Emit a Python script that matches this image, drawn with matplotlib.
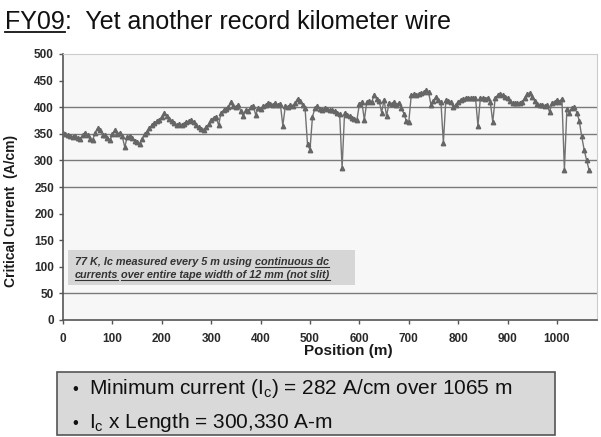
import numpy as np
import matplotlib
matplotlib.use("Agg")
import matplotlib.pyplot as plt
from matplotlib.lines import Line2D
from matplotlib.patches import Rectangle

plt.rcParams['font.family'] = ['Liberation Sans', 'DejaVu Sans']
plt.rcParams['mathtext.fontset'] = 'custom'
plt.rcParams['mathtext.rm'] = 'Liberation Sans'
plt.rcParams['mathtext.it'] = 'Liberation Sans'

# Ic measured every 5 m along the tape
position = np.arange(0, 1070, 5)
current = [
    351, 349, 347, 346, 344, 346, 342, 341, 348, 352, 347, 340, 338, 352, 360, 358, 348, 347, 343, 338,
    349, 357, 350, 352, 345, 325, 344, 346, 342, 337, 334, 331, 340, 350, 354, 360, 366, 370, 374, 376,
    382, 389, 384, 378, 374, 370, 366, 368, 366, 369, 372, 374, 376, 372, 366, 362, 359, 358, 362, 368,
    376, 380, 382, 366, 390, 394, 396, 400, 410, 402, 400, 404, 392, 384, 394, 392, 400, 402, 386, 398,
    396, 402, 404, 408, 406, 405, 407, 404, 406, 365, 402, 400, 404, 402, 408, 416, 412, 404, 398, 330,
    320, 382, 398, 402, 396, 395, 398, 396, 395, 394, 392, 390, 388, 286, 390, 386, 384, 380, 378, 376,
    406, 410, 376, 410, 412, 410, 423, 416, 412, 390, 414, 383, 408, 406, 410, 405, 408, 398, 388, 374,
    372, 423, 424, 423, 425, 426, 428, 432, 428, 404, 412, 419, 414, 410, 333, 414, 412, 410, 400, 404,
    410, 414, 416, 417, 418, 417, 418, 418, 365, 418, 417, 416, 418, 410, 372, 418, 422, 424, 422, 420,
    418, 412, 408, 408, 407, 408, 410, 418, 424, 427, 420, 412, 406, 404, 405, 402, 404, 391, 408, 410,
    414, 410, 416, 282, 396, 390, 398, 400, 390, 375, 345, 320, 300, 282,
]
grid_levels = [50, 250, 300, 350, 400]
y_ticks = list(range(0, 501, 50))
x_ticks = list(range(0, 1001, 100))

W, H = 601, 437
fig = plt.figure(figsize=(W / 100, H / 100), dpi=100)


def fx(x):
    return x / W


def fy(y):
    return 1 - y / H


ax = fig.add_axes([fx(63), fy(320), fx(597) - fx(63), fy(54) - fy(320)])
ax.set_facecolor('#f7f7f7')
for lvl in grid_levels:
    ax.axhline(lvl, color='#7a7a7a', lw=1.0, zorder=1)
ax.plot(position, current, color='#727272', lw=1.0, marker='^', ms=3.2,
        mfc='#666666', mec='#666666', zorder=3)
ax.set_xlim(0, 1081)
ax.set_ylim(0, 500)
ax.set_xticks(x_ticks)
ax.set_yticks(y_ticks)
ax.tick_params(direction='out', length=3, width=1, colors='#555555',
               labelcolor='#2a2a2a', labelsize=8.5)
ax.tick_params(axis='x', pad=6)
for lab in ax.get_xticklabels() + ax.get_yticklabels():
    lab.set_fontweight('bold')
for side in ['left', 'bottom']:
    ax.spines[side].set_color('#555555')
    ax.spines[side].set_linewidth(1.2)
for side in ['top', 'right']:
    ax.spines[side].set_color('#cccccc')

ax.set_xlabel('Position (m)', fontsize=11, fontweight='bold', color='#1a1a1a')
ax.xaxis.set_label_coords((348 - 63) / 534, -0.09)
ax.set_ylabel('Critical Current  (A/cm)', fontsize=10, fontweight='bold', color='#1a1a1a')
ax.yaxis.set_label_coords(-0.085, 0.41)

# note box inside the plot
fig.add_artist(Rectangle((fx(68), fy(285)), fx(355) - fx(68), fy(250) - fy(285),
                         transform=fig.transFigure, facecolor='#d6d6d6', edgecolor='none', zorder=5))

fig.canvas.draw()
renderer = fig.canvas.get_renderer()


def put(x, y, s, under=False, **kw):
    t = fig.text(fx(x), fy(y), s, va='baseline', ha='left', **kw)
    bb = t.get_window_extent(renderer)
    if under:
        yl = H - y - 1.8
        fig.add_artist(Line2D([bb.x0 / W, bb.x1 / W], [yl / H, yl / H],
                              transform=fig.transFigure, color=kw.get('color', 'k'),
                              lw=0.8, zorder=7))
    return bb.x1


note = dict(fontsize=7.8, fontweight='bold', fontstyle='italic', color='#333333', zorder=6)
x = put(75, 265, '77 K, Ic measured every 5 m using ', **note)
put(x, 265, 'continuous dc', under=True, **note)
x = put(75, 278, 'currents', under=True, **note)
x = put(x, 278, ' ', **note)
put(x, 278, 'over entire tape width of 12 mm (not slit)', under=True, **note)

# title
x = put(5, 29, 'FY09', fontsize=18, color='#111111')
fig.add_artist(Line2D([5 / W, x / W], [fy(32), fy(32)], transform=fig.transFigure,
                      color='#111111', lw=1.3))
put(x, 29, ':  Yet another record kilometer wire', fontsize=18, color='#111111')

# summary box
fig.add_artist(Rectangle((fx(57), fy(435)), fx(555) - fx(57), fy(372) - fy(435),
                         transform=fig.transFigure, facecolor='#d9d9d9',
                         edgecolor='#555555', lw=1.2))
put(72, 394, '•', fontsize=12, color='#111111')
put(89, 394, 'Minimum current (I$_\\mathrm{c}$) = 282 A/cm over 1065 m', fontsize=15, color='#111111')
put(72, 428, '•', fontsize=12, color='#111111')
put(89, 428, 'I$_\\mathrm{c}$ x Length = 300,330 A-m', fontsize=15, color='#111111')

fig.savefig('out.png', dpi=100)
